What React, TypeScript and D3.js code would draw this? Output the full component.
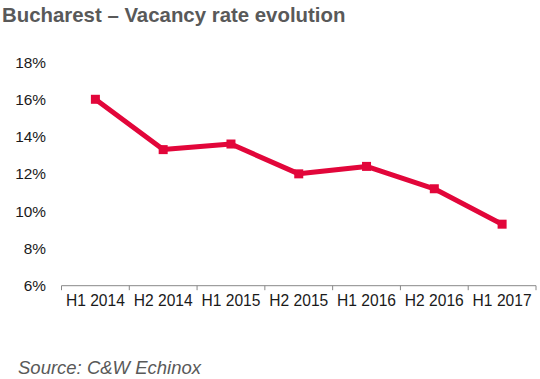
import React from "react";
import * as d3 from "d3";

const categories = ["H1 2014", "H2 2014", "H1 2015", "H2 2015", "H1 2016", "H2 2016", "H1 2017"];
const vacancy = [16.0, 13.3, 13.6, 12.0, 12.4, 11.2, 9.3];
const yTicks = [6, 8, 10, 12, 14, 16, 18];

export default function App() {
  const W = 540, H = 379;
  const x = d3.scaleBand<string>().domain(categories).range([61.5, 536]);
  const y = d3.scaleLinear().domain([6, 18]).range([285.7, 62]);
  const line = d3
    .line<number>()
    .x((_, i) => (x(categories[i]) as number) + x.bandwidth() / 2)
    .y((d) => y(d));
  const font = "Arial, 'Liberation Sans', sans-serif";
  const boundaries = [...categories.map((c) => x(c) as number), x.range()[1]];
  return (
    <svg width={W} height={H} style={{ position: "absolute", left: 0, top: 0 }} fontFamily={font}>
      <rect width={W} height={H} fill="#fff" />
      <text x={2} y={22} fontSize={20.4} fontWeight="bold" fill="#595959">
        Bucharest – Vacancy rate evolution
      </text>
      {yTicks.map((t) => (
        <text key={t} x={46} y={y(t) + 5.5} fontSize={15.4} textAnchor="end" fill="#1a1a1a">
          {t}%
        </text>
      ))}
      <line x1={x.range()[0]} x2={x.range()[1]} y1={y(6)} y2={y(6)} stroke="#888" strokeWidth={1} />
      {boundaries.map((b, i) => (
        <line key={i} x1={b} x2={b} y1={y(6)} y2={y(6) + 4.5} stroke="#888" strokeWidth={1} />
      ))}
      {categories.map((c) => (
        <text key={c} x={(x(c) as number) + x.bandwidth() / 2} y={305.5} fontSize={15.6} textAnchor="middle" fill="#1a1a1a">
          {c}
        </text>
      ))}
      <path d={line(vacancy) || ""} fill="none" stroke="#E2063A" strokeWidth={5} strokeLinejoin="round" />
      {vacancy.map((v, i) => (
        <rect
          key={i}
          x={(x(categories[i]) as number) + x.bandwidth() / 2 - 4.5}
          y={y(v) - 4.5}
          width={9}
          height={9}
          fill="#E2063A"
        />
      ))}
      <text x={18} y={373.5} fontSize={18.5} fontStyle="italic" fill="#595959">
        Source: C&amp;W Echinox
      </text>
    </svg>
  );
}
